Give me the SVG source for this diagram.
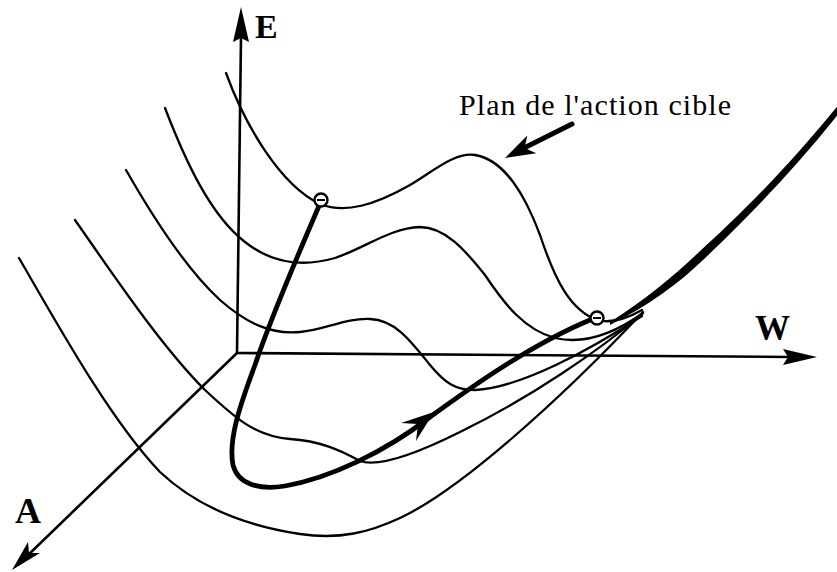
<svg xmlns="http://www.w3.org/2000/svg" width="837" height="572" viewBox="0 0 837 572">
<style>
.thin{fill:none;stroke:#000;stroke-width:2.3;stroke-linecap:round;stroke-linejoin:round}
.axis{fill:none;stroke:#000;stroke-width:2.6}
.traj{fill:none;stroke:#000;stroke-width:4.8;stroke-linecap:round;stroke-linejoin:round}
.head{fill:#000;stroke:none}
.ball{fill:#fff;stroke:#000;stroke-width:2.4}
.lbl{font-family:"Liberation Serif","Times New Roman",serif;font-weight:bold;fill:#000}
.cap{font-family:"Liberation Serif","Times New Roman",serif;fill:#000}
</style>
<rect width="837" height="572" fill="#fff"/>
<g id="axes">
  <g id="axis-E">
    <line class="axis" x1="237" y1="353" x2="241" y2="36"/>
    <polygon class="head" points="241,7 249,42 241,38 233,42"/>
    <text class="lbl" x="255" y="38" font-size="34">E</text>
  </g>
  <g id="axis-W">
    <line class="axis" x1="236" y1="353" x2="790" y2="357"/>
    <polygon class="head" points="817,357 783,349 788,357 783,365"/>
    <text class="lbl" x="755" y="340" font-size="35">W</text>
  </g>
  <g id="axis-A">
    <line class="axis" x1="237" y1="353" x2="25" y2="558"/>
    <polygon class="head" points="12,570 28,542 29,553 40,553"/>
    <text class="lbl" x="15" y="523" font-size="36">A</text>
  </g>
</g>
<g id="valleys">
  <path id="curve1" class="thin" d="M226,73 C245,125 280,185 320,204 C345,214 375,205 410,185 C435,170 455,152 475,155 C505,160 525,195 540,235 C555,280 570,310 597,320 C612,324 628,318 642,310"/>
  <path id="curve2" class="thin" d="M165,108 C185,160 210,215 245,242 C270,262 300,268 335,258 C365,248 390,228 420,227 C445,227 465,250 485,275 C505,305 525,330 555,338 C585,345 615,333 643,313"/>
  <path id="curve3" class="thin" d="M126,170 C150,212 185,268 220,300 C245,322 270,335 300,332 C325,330 345,318 370,319 C395,320 410,340 430,365 C445,383 455,390 475,390 C520,388 590,350 642,316"/>
  <path id="curve4" class="thin" d="M75,220 C110,270 160,345 205,390 C235,418 255,436 290,439 C320,441 340,450 360,461 C380,468 420,452 460,432 C530,398 600,350 642,314"/>
  <path id="curve5" class="thin" d="M19,258 C55,320 110,420 160,472 C195,505 240,525 300,534 C340,540 370,532 400,518 C460,490 560,400 643,312"/>
  <path id="band" class="head" d="M610,325 C650,305 680,282 703,260 C740,225 790,175 840,112 L840,103 C790,165 740,215 698,253 C675,275 645,300 610,322 Z"/>
</g>
<g id="trajectory">
  <path class="traj" d="M319,206 C300,250 270,320 255,365 C240,405 228,440 233,465 C238,485 260,490 285,486 C330,478 385,452 430,417 C470,388 530,345 590,320"/>
  <polygon class="head" points="434,412 401,423 418,424 416,441"/>
</g>
<g id="ball-start">
  <circle class="ball" cx="321" cy="200" r="6.5"/>
  <line x1="317" y1="200" x2="325" y2="200" stroke="#000" stroke-width="2"/>
</g>
<g id="ball-end">
  <circle class="ball" cx="597" cy="318" r="6.5"/>
  <line x1="593" y1="318" x2="601" y2="318" stroke="#000" stroke-width="2"/>
</g>
<g id="label-plan">
  <text class="cap" x="459" y="115" font-size="30" textLength="272" lengthAdjust="spacing">Plan de l'action cible</text>
  <line x1="524" y1="148" x2="572" y2="124" stroke="#000" stroke-width="5" stroke-linecap="round"/>
  <polygon class="head" points="505,158 527.3,135.5 524.6,148 536.3,153.3"/>
</g>
</svg>
